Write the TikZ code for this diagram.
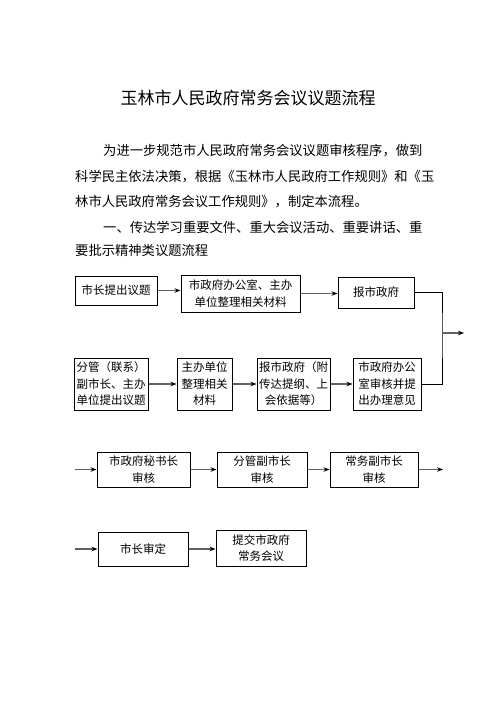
\documentclass[tikz,border=0pt]{standalone}
\usepackage{fontspec}
\setmainfont{Noto Sans CJK SC}
\usetikzlibrary{arrows.meta}

\tikzset{
  box/.style={draw, line width=1bp, align=center, inner sep=1bp,
    font=\fontsize{11.5bp}{16.5bp}\selectfont},
  flow/.style={-{Stealth[length=6bp,width=4.5bp,color=black]},
    draw=gray!75!black, line width=1.3bp},
  link/.style={draw=black, line width=1bp},
  line/.style={anchor=west, inner sep=0pt, font=\fontsize{13.3bp}{16bp}\selectfont}
}

\begin{document}
\begin{tikzpicture}[x=1bp,y=-1bp]
        \useasboundingbox[fill=white] (0,0) rectangle (496,702);

        % Title and opening text
        \node[font=\fontsize{17bp}{20bp}\selectfont] (title) at (248,98) {玉林市人民政府常务会议议题流程};
        \node[line] (p1) at (103,151) {为进一步规范市人民政府常务会议议题审核程序，做到};
        \node[line] (p2) at (75,177) {科学民主依法决策，根据《玉林市人民政府工作规则》和《玉};
        \node[line] (p3) at (75,202) {林市人民政府常务会议工作规则》，制定本流程。};
        \node[line] (p4) at (103,227) {一、传达学习重要文件、重大会议活动、重要讲话、重};
        \node[line] (p5) at (75,250) {要批示精神类议题流程};

        % First row
        \node[box, minimum width=82bp, minimum height=29bp] (mayor) at (116,290.5) {市长提出议题};
        \node[box, minimum width=119bp, minimum height=37bp] (office) at (240.5,293.5) {市政府办公室、主办\\单位整理相关材料};
        \node[box, minimum width=76bp, minimum height=31bp] (report) at (376,292.5) {报市政府};

        % Second row
        \node[box, minimum width=74bp, minimum height=52bp] (vice) at (111,384) {分管（联系）\\副市长、主办\\单位提出议题};
        \node[box, minimum width=55bp, minimum height=52bp] (unit) at (204.5,384) {主办单位\\整理相关\\材料};
        \node[box, minimum width=73bp, minimum height=52bp] (submit) at (293.5,384) {报市政府（附\\传达提纲、上\\会依据等）};
        \node[box, minimum width=68bp, minimum height=52bp] (check) at (387,384) {市政府办公\\室审核并提\\出办理意见};

        % Third row
        \node[box, minimum width=93bp, minimum height=35bp] (secretary) at (143.5,469.5) {市政府秘书长\\审核};
        \node[box, minimum width=90bp, minimum height=35bp] (deputy) at (262,469.5) {分管副市长\\审核};
        \node[box, minimum width=88bp, minimum height=35bp] (executive) at (374,469.5) {常务副市长\\审核};

        % Fourth row
        \node[box, minimum width=90bp, minimum height=34bp] (decide) at (143,549) {市长审定};
        \node[box, minimum width=90bp, minimum height=36bp] (meeting) at (261,548) {提交市政府\\常务会议};

        % Free ends
        \coordinate (turn) at (442,333);
        \coordinate (out1) at (464,333);
        \coordinate (in2) at (75,469.5);
        \coordinate (out2) at (443,469.5);
        \coordinate (in3) at (75,549);

        % Arrows inside the rows
        \foreach \a/\b in {mayor/office,office/report,vice/unit,unit/submit,submit/check,secretary/deputy,deputy/executive,decide/meeting}
            \draw[flow] (\a.east) -- (\a.east -| \b.west);

        % Joining the two upper rows
        \draw[link] (report.east) -| (turn) |- (check.east);
        \draw[flow] (turn) -- (out1);

        \draw[flow] (in2) -- (secretary.west);
        \draw[flow] (executive.east) -- (out2);
        \draw[flow] (in3) -- (decide.west);
\end{tikzpicture}
\end{document}
